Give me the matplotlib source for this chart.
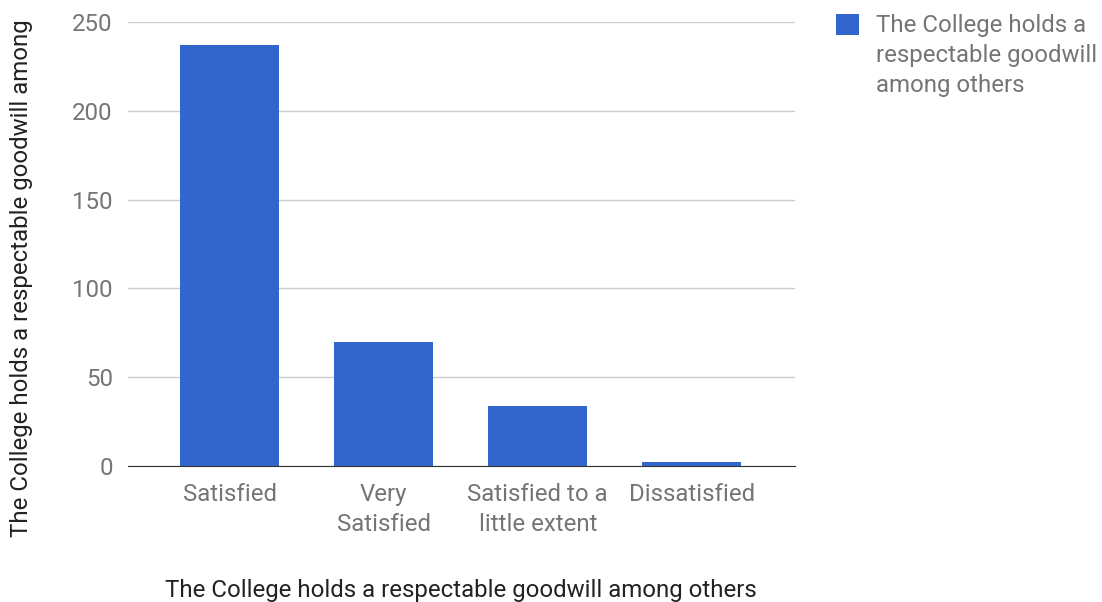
import matplotlib.pyplot as plt
import numpy as np

plt.rcParams['font.family'] = ['Roboto', 'DejaVu Sans']

categories = ['Satisfied', 'Very\nSatisfied', 'Satisfied to a\nlittle extent', 'Dissatisfied']
counts = [237, 70, 34, 2]
series_name = 'The College holds a\nrespectable goodwill\namong others'
x_title = 'The College holds a respectable goodwill among others'
y_title = 'The College holds a respectable goodwill among'

bar_color = '#3366cc'
grey_text = '#757575'
fs = 17.3

fig = plt.figure(figsize=(11.02, 6.02), dpi=100)
ax = fig.add_axes([128 / 1102, 1 - 466 / 602, (795 - 128) / 1102, (466 - 22) / 602])

x = np.arange(len(categories))
ax.bar(x, counts, width=0.643, color=bar_color, label=series_name, zorder=3)

ax.set_xlim(-0.66, 3.67)
ax.set_ylim(0, 250)
ax.set_yticks([0, 50, 100, 150, 200, 250])
ax.set_xticks(x)
ax.set_xticklabels(categories, fontsize=fs, color=grey_text, linespacing=1.38)
ax.tick_params(axis='y', labelsize=fs, labelcolor=grey_text, length=0, pad=11)
ax.tick_params(axis='x', length=0, pad=12.5)

ax.grid(axis='y', color='#cccccc', linewidth=1, zorder=0)
for side in ['top', 'right', 'left']:
    ax.spines[side].set_visible(False)
ax.spines['bottom'].set_color('#333333')
ax.spines['bottom'].set_zorder(4)

fig.text(461 / 1102, 1 - 590 / 602, x_title, fontsize=fs, color='#222222',
         ha='center', va='center')
fig.text(22 / 1102, 1 - 278 / 602, y_title, rotation=90, fontsize=fs,
         color='#222222', ha='center', va='center')

leg = ax.legend(loc='upper left', bbox_to_anchor=(836 / 1102, 1 - 14 / 602),
                bbox_transform=fig.transFigure, frameon=False, fontsize=fs,
                borderpad=0, borderaxespad=0,
                handlelength=0.95, handleheight=0.95, handletextpad=0.7,
                labelcolor=grey_text)
for t in leg.get_texts():
    t.set_linespacing(1.4)
for row in leg._legend_handle_box.get_children():
    for entry in row.get_children():
        entry.align = 'top'

fig.savefig('out.png', dpi=100)
